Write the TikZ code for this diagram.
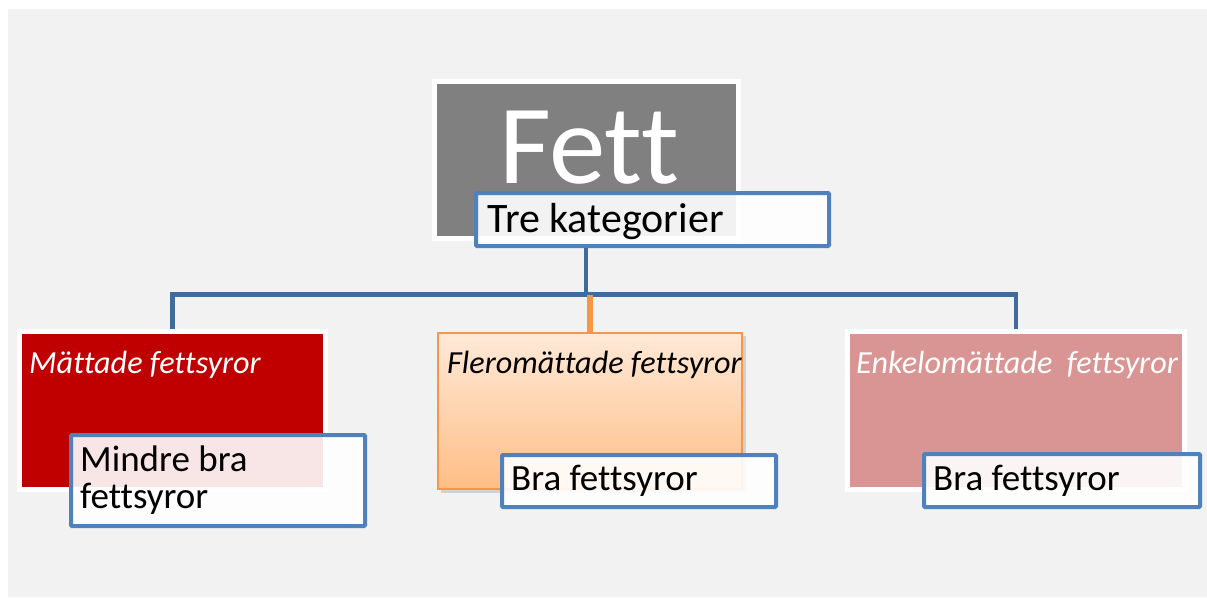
\documentclass[tikz,border=0pt]{standalone}
\usepackage{fontspec}
\setmainfont{Carlito}[Ligatures={NoCommon,NoContextual,NoRequired}, Contextuals=NoAlternate]
\usetikzlibrary{positioning}
\definecolor{bg}{RGB}{242,242,242}
\definecolor{fettgray}{RGB}{128,128,128}
\definecolor{boxblue}{RGB}{79,129,189}
\definecolor{connblue}{RGB}{65,107,155}
\definecolor{darkred}{RGB}{192,0,0}
\definecolor{rosy}{RGB}{217,149,148}
\definecolor{orangeline}{RGB}{247,150,70}
\definecolor{peachtop}{RGB}{255,233,216}
\definecolor{peachbot}{RGB}{255,190,134}
\tikzset{
  x=1pt, y=-1pt,
  whitebox/.style={draw=white, line width=5pt, inner sep=0pt, rectangle},
  labelbox/.style={draw=boxblue, line width=4pt, fill=white, fill opacity=0.9, draw opacity=1, rounded corners=1pt, inner sep=0pt, rectangle},
  conn/.style={draw=connblue, line width=4.5pt},
  oconn/.style={draw=orangeline, line width=6pt},
  blacktext/.style={anchor=base west, inner sep=0pt, text depth=0pt, text=black, font=\fontsize{37}{37}\selectfont},
  ital/.style={anchor=base west, inner sep=0pt, text depth=0pt, font=\fontsize{32.2}{32}\selectfont\itshape},
}
\begin{document}
\begin{tikzpicture}
\useasboundingbox (0,0) rectangle (1207,597);
\fill[white] (0,0) rectangle (1207,597);
\fill[bg] (8,9) rectangle (1207,597);

\coordinate (j) at (586,294.5);

% Fett box
\node[whitebox, fill=fettgray, minimum width=304pt, minimum height=157pt] (fett) at (586.5,160) {};
\node[anchor=base, inner sep=0pt, text depth=0pt, text=white, font=\fontsize{113}{113}\selectfont] (fettlabel) at (589,183) {Fett};

% three category boxes
\node[whitebox, fill=darkred, minimum width=306pt, minimum height=158pt] (mat) at (172.5,410.5) {};
\node[whitebox, fill=rosy, minimum width=337pt, minimum height=158pt] (enk) at (1016,410.5) {};
\fill[black, opacity=0.13] (441,336) rectangle (746,493);
\node[draw=orangeline, line width=2pt, top color=peachtop, bottom color=peachbot, inner sep=0pt, minimum width=304pt, minimum height=156pt] (fler) at (590,411) {};

\draw[conn] (mat.north) -- (mat.north |- j) -- (enk.north |- j) -- (enk.north);
\draw[oconn] (fler.north) -- (fler.north |- j);

% Tre kategorier
\node[labelbox, minimum width=353pt, minimum height=53pt] (tre) at (652.5,219.5) {};
\draw[conn] (j |- tre.south) -- (j);
\node[blacktext, font=\fontsize{42}{42}\selectfont] (trelabel) at (487,232) {Tre kategorier};

% italic headings
\node[ital, text=white] (matlabel) at (29,373) {Mättade fettsyror};
\node[ital, text=black] (flerlabel) at (447,373) {Fleromättade fettsyror};
\node[ital, text=white] (enklabel) at (856,373) {Enkelomättade\ \ fettsyror};

% sub labels
\node[labelbox, minimum width=294pt, minimum height=91pt] (mindre) at (218,480.5) {};
\node[blacktext] (mindrelabel1) at (80,471) {Mindre bra};
\node[blacktext] (mindrelabel2) at (80,508) {fettsyror};

\node[labelbox, minimum width=274pt, minimum height=52pt] (bra1) at (639,481) {};
\node[blacktext] (bra1label) at (511,490) {Bra fettsyror};

\node[labelbox, minimum width=276pt, minimum height=53pt] (bra2) at (1062,480.5) {};
\node[blacktext] (bra2label) at (933,490) {Bra fettsyror};
\end{tikzpicture}
\end{document}
